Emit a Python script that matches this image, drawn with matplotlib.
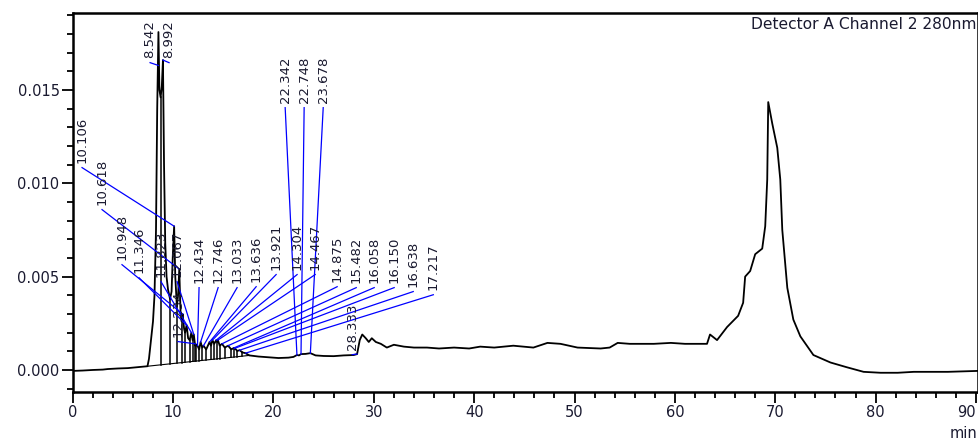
import numpy as np
import matplotlib
matplotlib.use('Agg')
import matplotlib.pyplot as plt
from matplotlib.ticker import MultipleLocator, FormatStrFormatter

# chromatogram trace (min, AU)
rt = [0.0, 1.0, 2.0, 3.0, 3.5, 4.5, 5.5, 6.5, 7.2, 7.45, 7.6, 7.8, 8.0, 8.15, 8.3, 8.42,
      8.542, 8.64, 8.76, 8.88, 8.992, 9.1, 9.22, 9.35, 9.5, 9.7, 9.85, 9.98, 10.106, 10.22,
      10.38, 10.5, 10.618, 10.75, 10.85, 10.948, 11.1, 11.2, 11.346, 11.5, 11.65, 11.823,
      11.95, 12.067, 12.2, 12.234, 12.3, 12.434, 12.6, 12.746, 12.9, 13.033, 13.3, 13.636,
      13.78, 13.921, 14.1, 14.304, 14.39, 14.467, 14.65, 14.875, 15.15, 15.482, 15.8, 16.058,
      16.1, 16.15, 16.4, 16.638, 16.9, 17.217, 17.6, 18.5, 19.5, 20.5, 21.5, 22.0, 22.342,
      22.55, 22.748, 23.2, 23.678, 24.2, 25.0, 26.0, 27.0, 28.0, 28.333, 28.6, 28.85, 29.2,
      29.5, 29.8, 30.2, 30.7, 31.3, 32.0, 33.0, 34.0, 35.3, 36.5, 38.0, 39.5, 40.6, 42.0,
      43.9, 45.9, 47.3, 48.6, 50.3, 52.6, 53.5, 54.3, 55.5, 57.9, 59.6, 61.0, 62.5, 63.2,
      63.5, 64.2, 65.2, 66.3, 66.8, 67.0, 67.5, 68.0, 68.7, 69.0, 69.2, 69.3, 69.7, 70.2,
      70.5, 70.7, 71.2, 71.8, 72.5, 73.8, 75.5, 77.1, 78.8, 80.5, 82.2, 83.8, 87.2, 90.2]
absorb = [-0.00005, -0.00003, 0.0, 0.00002, 0.00005, 0.00008, 0.0001, 0.00015, 0.00018, 0.0002,
          0.0006, 0.0016, 0.0026, 0.0040, 0.0075, 0.0140, 0.0181, 0.0150, 0.0146, 0.0152,
          0.0166, 0.0110, 0.0068, 0.0050, 0.0043, 0.0038, 0.0042, 0.0062, 0.0077, 0.0050,
          0.0034, 0.0040, 0.0054, 0.0030, 0.0026, 0.0030, 0.0022, 0.0020, 0.0024, 0.0017,
          0.0016, 0.0020, 0.0016, 0.0019, 0.0013, 0.0014, 0.0013, 0.0013, 0.0011, 0.0015,
          0.0012, 0.0013, 0.0011, 0.0015, 0.0013, 0.0016, 0.0014, 0.0016, 0.0015, 0.0016,
          0.0013, 0.0014, 0.0012, 0.0013, 0.0011, 0.00118, 0.00114, 0.00116, 0.00102, 0.00106,
          0.00094, 0.0009, 0.00078, 0.00072, 0.00068, 0.00064, 0.00066, 0.0007, 0.0008, 0.00078,
          0.00085, 0.00086, 0.0009, 0.00078, 0.00075, 0.00074, 0.00078, 0.0008, 0.00085, 0.0016,
          0.0019, 0.0017, 0.0015, 0.0017, 0.0015, 0.0014, 0.0012, 0.00135, 0.00125, 0.0012,
          0.0012, 0.00115, 0.0012, 0.00115, 0.00125, 0.0012, 0.0013, 0.0012, 0.00145, 0.0014,
          0.0012, 0.00115, 0.0012, 0.00145, 0.0014, 0.0014, 0.00145, 0.0014, 0.0014, 0.0014,
          0.0019, 0.0016, 0.0023, 0.0029, 0.0036, 0.0050, 0.0053, 0.0062, 0.0065, 0.0077,
          0.0102, 0.01435, 0.0132, 0.0119, 0.0102, 0.0075, 0.0044, 0.0027, 0.0018, 0.0008,
          0.0004, 0.00015, -0.0001, -0.00015, -0.00015, -0.0001, -0.0001, -0.00005]

# labelled peaks: retention time text, label position (min) and label bottom (AU)
peak_rt = [8.542, 8.992, 10.106, 10.618, 10.948, 11.346, 11.823, 12.067, 12.234, 12.434,
           12.746, 13.033, 13.636, 13.921, 14.304, 14.467, 14.875, 15.482, 16.058, 16.150,
           16.638, 17.217, 22.342, 22.748, 23.678, 28.333]
label_x = [7.71, 9.60, 0.93, 2.92, 4.91, 6.61, 8.80, 10.40, 10.50, 12.59,
           14.49, 16.38, 18.28, 20.27, 22.36, 24.16, 26.35, 28.25, 30.04, 32.03,
           33.93, 35.93, 21.17, 23.06, 24.96, 27.85]
label_y = [0.01671, 0.01671, 0.01109, 0.00884, 0.00589, 0.00519, 0.00498, 0.00498, 0.00177, 0.00466,
           0.00466, 0.00466, 0.00471, 0.00536, 0.00536, 0.00536, 0.00471, 0.00466, 0.00466, 0.00466,
           0.00445, 0.00428, 0.0143, 0.0143, 0.0143, 0.00107]

# peak boundaries (drop lines) and integration baseline
valleys = [8.76, 9.7, 10.38, 10.85, 11.2, 11.65, 11.95, 12.2, 12.3, 12.6, 12.9, 13.3,
           13.78, 14.1, 14.39, 14.65, 15.15, 15.8, 16.1, 16.4, 16.9]
base_t = [7.45, 17.6]
base_v = [0.0002, 0.00078]

x_ticks = [0, 10, 20, 30, 40, 50, 60, 70, 80, 90]

fig = plt.figure(figsize=(9.79, 4.41), dpi=100)
ax = fig.add_axes([72.7 / 979, 1 - 392 / 441, (978 - 72.7) / 979, (392 - 13) / 441])

ax.plot(base_t, base_v, color='black', lw=0.8)
for v in valleys:
    top = np.interp(v, rt, absorb)
    bot = np.interp(v, base_t, base_v)
    ax.plot([v, v], [bot, top], color='black', lw=1.1)

ax.plot(rt, absorb, color='black', lw=1.3)

for p, lx, ly in zip(peak_rt, label_x, label_y):
    apex = np.interp(p, rt, absorb)
    end = ly - 0.0004 if apex > ly else apex
    ax.plot([lx, p], [ly - 0.00025, end], color='#0000ff', lw=0.9)
    ax.text(lx, ly, f'{p:.3f}', rotation=90, ha='center', va='bottom',
            fontsize=9.5, color='#1a1a30')

ax.text(0.998, 0.970, 'Detector A Channel 2 280nm', transform=ax.transAxes,
        ha='right', va='center', fontsize=11.2, color='#1a1a30')
fig.text(977 / 979, 1 - 433 / 441, 'min', ha='right', va='center', fontsize=10.5, color='#1a1a30')

ax.set_xlim(0, 90.2)
ax.set_ylim(-0.00118, 0.01912)
ax.set_xticks(x_ticks)
ax.xaxis.set_minor_locator(MultipleLocator(2))
ax.yaxis.set_major_locator(MultipleLocator(0.005))
ax.yaxis.set_minor_locator(MultipleLocator(0.001))
ax.yaxis.set_major_formatter(FormatStrFormatter('%.3f'))
ax.tick_params(which='major', direction='out', length=8, width=1.3, labelsize=10.5,
               pad=1.5, labelcolor='#1a1a30')
ax.tick_params(which='minor', direction='out', length=4, width=1.3)
for s in ax.spines.values():
    s.set_linewidth(1.8)

# last x label ("90") sits inside the figure edge, as in the original
ax.xaxis.get_major_ticks()[-1].label1.set_horizontalalignment('right')

fig.savefig('out.png', dpi=100)
